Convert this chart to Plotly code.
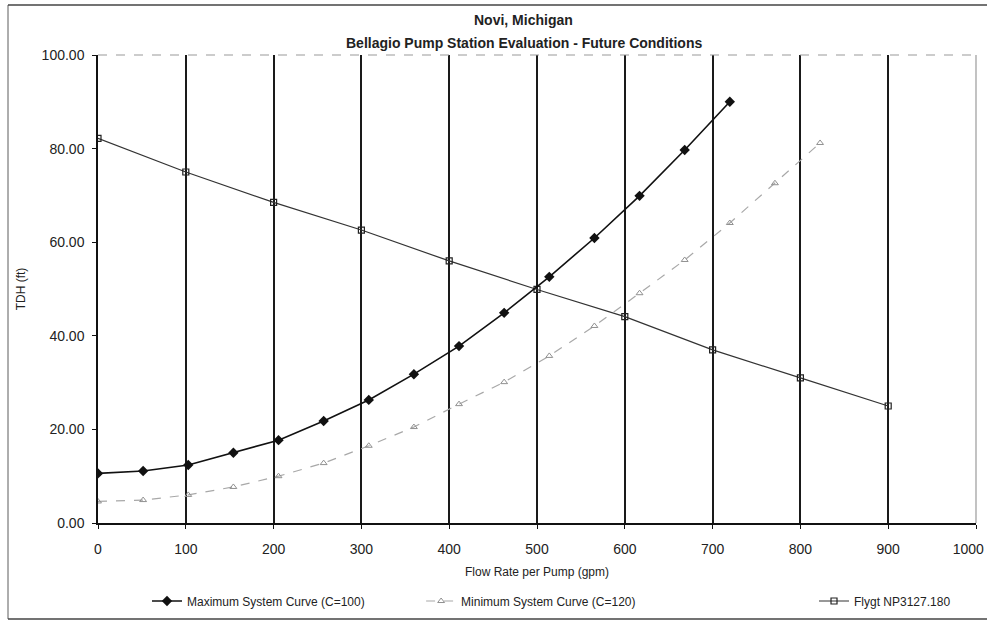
import plotly.graph_objects as go

# Data
max_flow = [0, 51.4, 102.8, 154.2, 205.6, 257.0, 308.4, 359.8, 411.2, 462.6, 514.0, 565.4, 616.8, 668.2, 719.6]
max_tdh = [10.6, 11.1, 12.4, 15.0, 17.7, 21.8, 26.3, 31.8, 37.8, 44.9, 52.6, 60.9, 69.9, 79.7, 90.0]

min_flow = [0, 51.4, 102.8, 154.2, 205.6, 257.0, 308.4, 359.8, 411.2, 462.6, 514.0, 565.4, 616.8, 668.2, 719.6, 771.0, 822.4]
min_tdh = [4.6, 4.9, 6.0, 7.7, 10.0, 12.8, 16.5, 20.5, 25.4, 30.1, 35.7, 42.1, 49.1, 56.2, 64.1, 72.6, 81.2]

pump_flow = [0, 100, 200, 300, 400, 500, 600, 700, 800, 900]
pump_tdh = [82.2, 75.0, 68.5, 62.6, 56.0, 49.9, 44.1, 37.0, 31.0, 25.0]

x_ticks = [0, 100, 200, 300, 400, 500, 600, 700, 800, 900, 1000]
y_ticks = [0, 20, 40, 60, 80, 100]

FONT = "Liberation Sans, Arial, sans-serif"
TXT = "#222222"

# tick labels; the last one is padded so it stays inside the page edge
x_ticktext = [str(v) for v in x_ticks]
x_ticktext[-1] = x_ticktext[-1] + "\u00a0" * 4

fig = go.Figure()
fig.add_trace(go.Scatter(
    x=pump_flow, y=pump_tdh, mode="lines+markers",
    name="Flygt NP3127.180", legend="legend3",
    line=dict(color="#333333", width=1.2),
    marker=dict(symbol="square-open", size=6, color="#222222", line=dict(width=1.2)),
))
fig.add_trace(go.Scatter(
    x=min_flow, y=min_tdh, mode="lines+markers",
    name="Minimum System Curve (C=120)", legend="legend2",
    line=dict(color="#a8a8a8", width=1.2, dash="dash"),
    marker=dict(symbol="triangle-up-open", size=6, color="#909090", line=dict(width=1)),
))
fig.add_trace(go.Scatter(
    x=max_flow, y=max_tdh, mode="lines+markers",
    name="Maximum System Curve (C=100)", legend="legend",
    line=dict(color="#111111", width=1.6),
    marker=dict(symbol="diamond", size=8, color="#111111"),
))

leg_common = dict(orientation="h", xanchor="left", yanchor="middle",
                  xref="paper", yref="paper",
                  font=dict(family=FONT, size=12, color=TXT),
                  bgcolor="rgba(0,0,0,0)", itemwidth=30)
LEG_Y = -0.1667

fig.update_layout(
    width=987, height=622,
    margin=dict(l=98, r=11, t=55, b=99, autoexpand=False),
    paper_bgcolor="white", plot_bgcolor="white",
    font=dict(family=FONT, size=12, color=TXT),
    showlegend=True,
    legend=dict(x=0.0558, y=LEG_Y, **leg_common),
    legend2=dict(x=0.368, y=LEG_Y, **leg_common),
    legend3=dict(x=0.8155, y=LEG_Y, **leg_common),
    xaxis=dict(
        range=[0, 1000], tickvals=x_ticks, ticktext=x_ticktext,
        showgrid=True, gridcolor="#1a1a1a", gridwidth=1.6,
        showline=True, linecolor="#111111", linewidth=1.5,
        ticks="outside", ticklen=4, tickcolor="#111111",
        zeroline=False, ticklabelstandoff=8, ticklabeloverflow="allow",
        automargin=False,
        title=dict(text="Flow Rate per Pump (gpm)", font=dict(size=12), standoff=12),
        tickfont=dict(size=14),
    ),
    yaxis=dict(
        range=[0, 100], tickvals=y_ticks, tickformat=".2f",
        showgrid=False,
        showline=True, linecolor="#111111", linewidth=1.5,
        ticks="outside", ticklen=4, tickcolor="#111111",
        zeroline=False, ticklabelstandoff=5, automargin=False,
        title=dict(text="TDH (ft)", font=dict(size=12), standoff=13),
        tickfont=dict(size=14),
    ),
    annotations=[
        dict(text="<b>Novi, Michigan</b>", xref="paper", yref="paper", x=0.485, y=1.0,
             yanchor="middle", xanchor="center",
             yshift=35, showarrow=False, font=dict(size=14, color=TXT)),
        dict(text="<b>Bellagio Pump Station Evaluation - Future Conditions</b>", xref="paper",
             yref="paper", x=0.485, y=1.0, yanchor="middle", xanchor="center",
             yshift=12, showarrow=False, font=dict(size=14, color=TXT)),
    ],
    shapes=[
        # plot frame top and right (light)
        dict(type="line", xref="paper", yref="paper", x0=0, x1=1, y0=1, y1=1,
             line=dict(color="#9a9a9a", width=1.2, dash="dash")),
        dict(type="line", xref="paper", yref="paper", x0=1, x1=1, y0=0, y1=1,
             line=dict(color="#9a9a9a", width=1.2)),
        # outer chart frame (left, top, bottom)
        dict(type="line", xref="paper", yref="paper", x0=-0.1025, x1=-0.1025, y0=-0.2051, y1=1.1068,
             line=dict(color="#777777", width=1.2)),
        dict(type="line", xref="paper", yref="paper", x0=-0.1025, x1=1.02, y0=1.1068, y1=1.1068,
             line=dict(color="#444444", width=1.5)),
        dict(type="line", xref="paper", yref="paper", x0=-0.1025, x1=1.02, y0=-0.2051, y1=-0.2051,
             line=dict(color="#444444", width=1.5)),
    ],
)

fig.write_html(
    "out.html",
    config={"displayModeBar": False},
    post_script=(
        "document.documentElement.style.overflow='hidden';"
        "document.body.style.margin='0';"
        "document.body.style.overflow='hidden';"
    ),
)
